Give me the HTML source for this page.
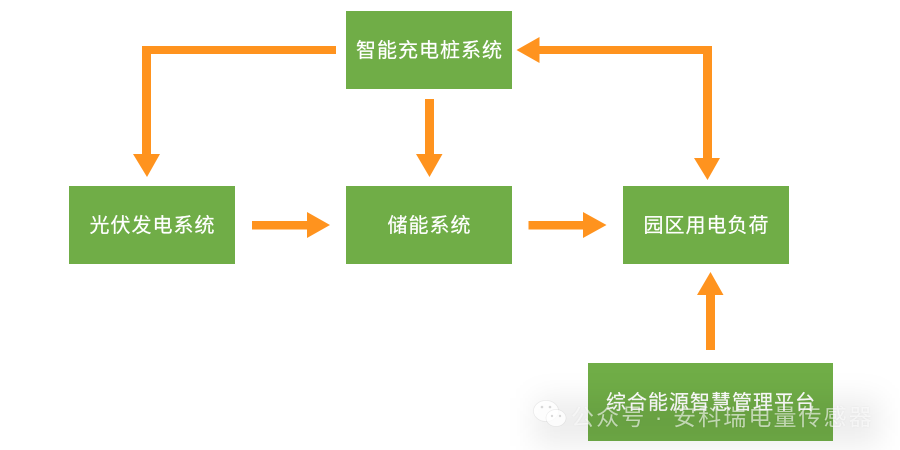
<!DOCTYPE html>
<html lang="zh">
<head>
<meta charset="utf-8">
<style>
html,body{margin:0;padding:0;background:#fff;}
#c{position:relative;width:900px;height:450px;overflow:hidden;background:#fff;font-family:"Liberation Sans","Noto Sans CJK SC",sans-serif;}
.b{position:absolute;box-sizing:border-box;background:#70ad47;color:#fff;font-size:20px;letter-spacing:1px;line-height:80px;height:78px;padding-left:1px;text-align:center;white-space:nowrap;-webkit-text-stroke:.2px #fff;}
svg{position:absolute;left:0;top:0;}
#shade{position:absolute;left:535px;top:398px;width:345px;height:48px;background:rgba(0,0,0,.07);filter:blur(14px);}
#wm{position:absolute;left:571px;top:402px;font-size:23px;line-height:30px;letter-spacing:2.1px;color:rgba(255,255,255,.6);text-shadow:0 0 2px rgba(0,0,0,.06);white-space:nowrap;}
</style>
</head>
<body>
<div id="c">
<div class="b" style="left:346px;top:11px;width:166px;">智能充电桩系统</div>
<div class="b" style="left:69px;top:186px;width:166px;">光伏发电系统</div>
<div class="b" style="left:346px;top:186px;width:166px;">储能系统</div>
<div class="b" style="left:623px;top:186px;width:166px;">园区用电负荷</div>
<div class="b" style="left:588px;top:363px;width:245px;">综合能源智慧管理平台</div>
<svg width="900" height="450" viewBox="0 0 900 450" fill="#ff931e">
<path d="M336 46H142V154H133L147 177L160 154H151V54H336Z"/>
<path d="M516.500 50L539.500 37V46H712V158H720L707.500 180L694 158H703V54H539.500V63Z"/>
<path d="M425 99H434V154H442.500L429.500 177L416 154H425Z"/>
<path d="M252 221H307V212L330 225L307 238V229.500H252Z"/>
<path d="M528.500 221H583V212L606.500 225L583 238V229.500H528.500Z"/>
<path d="M706 350V295H697L710.500 272L723.500 295H715V350Z"/>
</svg>
<div id="shade"></div>
<svg width="900" height="450" viewBox="0 0 900 450">
<g fill="rgba(255,255,255,.8)" stroke="rgba(0,0,0,.07)" stroke-width=".7">
<ellipse cx="546" cy="411" rx="12.500" ry="10.500"/>
<ellipse cx="556" cy="418" rx="10" ry="8.500"/>
</g>
<g fill="rgba(0,0,0,.15)">
<circle cx="542" cy="407" r="1.300"/><circle cx="550" cy="407" r="1.300"/>
<circle cx="552" cy="416" r="1.200"/><circle cx="560" cy="416" r="1.200"/>
</g>
</svg>
<div id="wm">公众号 · 安科瑞电量传感器</div>
</div>
</body>
</html>
